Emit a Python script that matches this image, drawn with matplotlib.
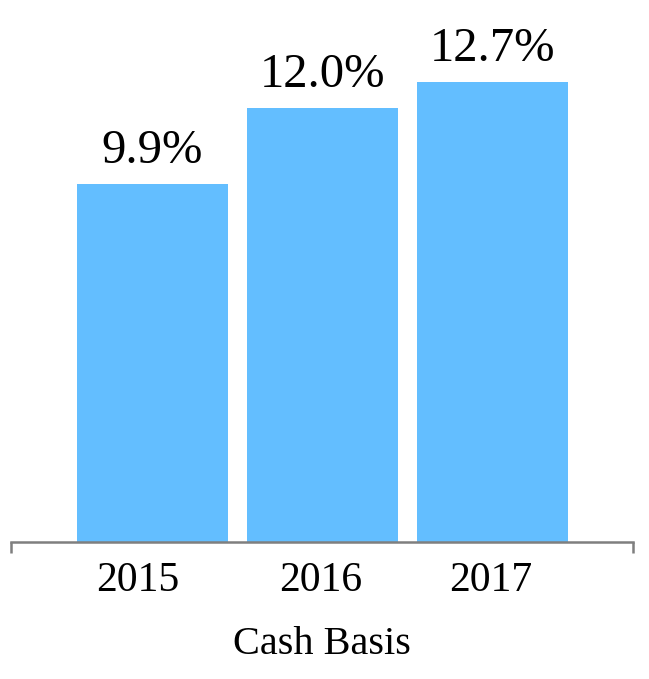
import matplotlib
matplotlib.use('Agg')
import matplotlib.pyplot as plt

# data
years = ['2015', '2016', '2017']
values = [9.9, 12.0, 12.7]
labels = ['9.9%', '12.0%', '12.7%']

plt.rcParams['font.family'] = ['Liberation Serif', 'DejaVu Serif']

fig = plt.figure(figsize=(6.49, 6.79), dpi=100)
ax = fig.add_axes([0.017, (679 - 542) / 679, 0.958, 542 / 679])

x = range(len(years))
ax.bar(x, values, width=0.89, color='#63BEFF')
for xi, v, lab in zip(x, values, labels):
    ax.text(xi, v + 0.3, lab, ha='center', va='bottom', fontsize=35)

xl = (-0.832, 2.826)
ax.set_xlim(*xl)
ax.set_ylim(0, 14.97)
# the first year label sits a little left of its bar in the original
ax.set_xticks([-0.085, 0.99, 1.99])
ax.set_xticklabels(years, fontsize=30)
ax.tick_params(axis='x', which='major', length=0, pad=14)
ax.set_xticks(list(xl), minor=True)
ax.tick_params(axis='x', which='minor', length=8, width=1.8, color='#7f7f7f', direction='out')
ax.set_yticks([])
for s in ['top', 'right', 'left']:
    ax.spines[s].set_visible(False)
ax.spines['bottom'].set_color('#7f7f7f')
ax.spines['bottom'].set_linewidth(1.8)
ax.set_xlabel('Cash Basis', fontsize=29, labelpad=19)

fig.savefig('out.png', dpi=100)
